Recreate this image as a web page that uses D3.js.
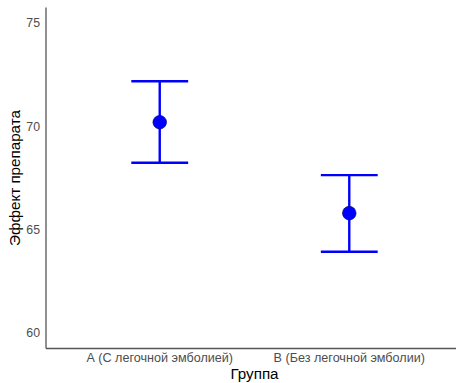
<!DOCTYPE html>
<html>
<head>
<meta charset="utf-8">
<script src="https://cdn.jsdelivr.net/npm/d3@7"></script>
<style>
    body { margin: 0; background: #fff; }
    text { font-family: "Liberation Sans", Arial, sans-serif; }
</style>
</head>
<body>
<svg id="chart" width="456" height="383"></svg>
<script>
// Group means with lower / upper error bounds
const groups = ['А (С легочной эмболией)', 'В (Без легочной эмболии)'];
const means = [70.2, 65.8];
const lower = [68.24, 63.93];
const upper = [72.18, 67.64];
const yTicks = [60, 65, 70, 75];

const data = groups.map((g, i) => ({group: g, mean: means[i], lo: lower[i], hi: upper[i]}));

const svg = d3.select('#chart');
const panelLeft = 46, panelRight = 463, panelTop = 7.5, panelBottom = 348.5;

const x = d3.scalePoint().domain(groups).range([panelLeft, panelRight]).padding(0.6);
const y = d3.scaleLinear().domain([59.25, 75.75]).range([panelBottom, panelTop]);
const capHalf = x.step() * 0.15;

// axes
svg.append('line')
    .attr('x1', panelLeft).attr('x2', panelLeft)
    .attr('y1', panelTop).attr('y2', panelBottom)
    .attr('stroke', '#555').attr('stroke-width', 1.3);
svg.append('line')
    .attr('x1', panelLeft).attr('x2', 456)
    .attr('y1', panelBottom).attr('y2', panelBottom)
    .attr('stroke', '#555').attr('stroke-width', 1.3);

svg.selectAll('.ytick')
    .data(yTicks)
    .enter()
    .append('text')
    .attr('class', 'ytick')
    .attr('x', panelLeft - 6)
    .attr('y', d => y(d))
    .attr('dy', '0.35em')
    .attr('text-anchor', 'end')
    .attr('font-size', 12.3)
    .attr('fill', '#4d4d4d')
    .text(d => d);

svg.selectAll('.xtick')
    .data(groups)
    .enter()
    .append('text')
    .attr('class', 'xtick')
    .attr('x', d => x(d))
    .attr('y', panelBottom + 13)
    .attr('text-anchor', 'middle')
    .attr('font-size', 12.6)
    .attr('fill', '#4d4d4d')
    .text(d => d);

svg.append('text')
    .attr('x', (panelLeft + panelRight) / 2)
    .attr('y', 378.5)
    .attr('text-anchor', 'middle')
    .attr('font-size', 15.2)
    .attr('fill', '#000')
    .text('Группа');

svg.append('text')
    .attr('transform', `translate(19.5, ${(panelTop + panelBottom) / 2}) rotate(-90)`)
    .attr('text-anchor', 'middle')
    .attr('font-size', 15.2)
    .attr('fill', '#000')
    .text('Эффект препарата');

// error bars
const bars = svg.append('g').selectAll('g')
    .data(data)
    .enter()
    .append('g')
    .attr('stroke', '#0000ff')
    .attr('stroke-width', 2.4);

bars.append('line')
    .attr('x1', d => x(d.group)).attr('x2', d => x(d.group))
    .attr('y1', d => y(d.lo)).attr('y2', d => y(d.hi));
bars.append('line')
    .attr('x1', d => x(d.group) - capHalf).attr('x2', d => x(d.group) + capHalf)
    .attr('y1', d => y(d.hi)).attr('y2', d => y(d.hi));
bars.append('line')
    .attr('x1', d => x(d.group) - capHalf).attr('x2', d => x(d.group) + capHalf)
    .attr('y1', d => y(d.lo)).attr('y2', d => y(d.lo));

svg.selectAll('circle')
    .data(data)
    .enter()
    .append('circle')
    .attr('cx', d => x(d.group))
    .attr('cy', d => y(d.mean))
    .attr('r', 6.8)
    .attr('fill', '#0000ff')
    .attr('stroke', '#00006a')
    .attr('stroke-width', 0.6);
</script>
</body>
</html>
